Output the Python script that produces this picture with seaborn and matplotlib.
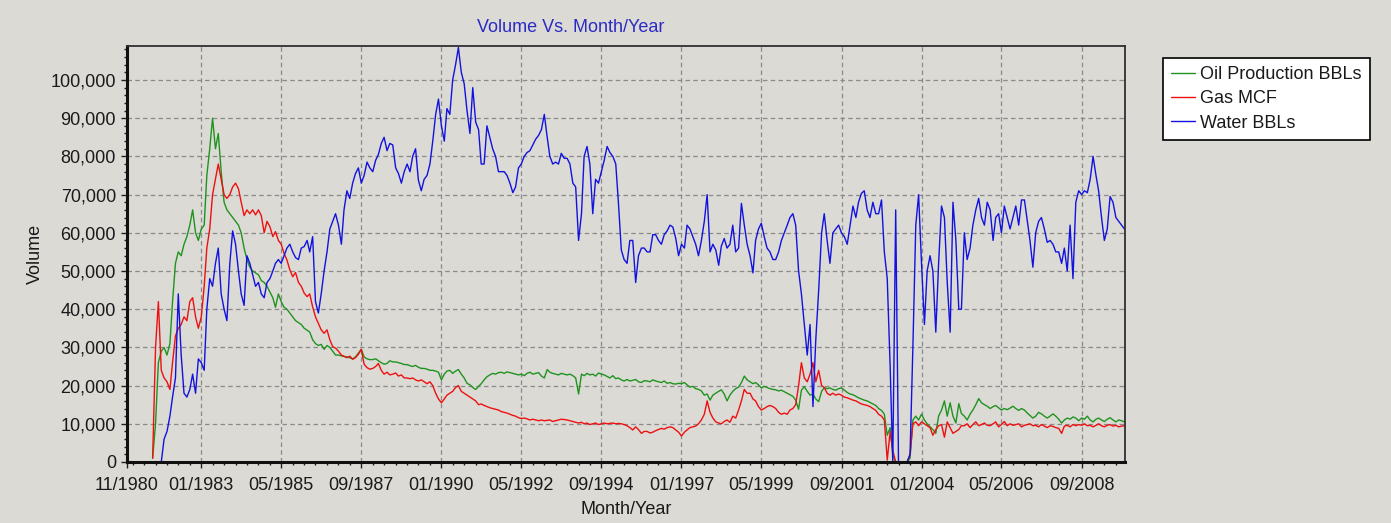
import numpy as np
import pandas as pd
import matplotlib
matplotlib.use("Agg")
import matplotlib.pyplot as plt
import matplotlib.dates as mdates
from matplotlib.ticker import FuncFormatter, MultipleLocator
import seaborn as sns

# ---------------- data (monthly, in thousands) ----------------
START_MONTH = "1981-08-01"
series_names = ["Oil Production BBLs", "Gas MCF", "Water BBLs"]

oil_k = [
    1, 10, 26, 29, 30,
    28, 31, 42, 52, 55, 54, 57, 59, 62, 66, 60, 58,
    61, 62, 75, 82, 90, 82, 86, 76, 68, 66, 65, 64,
    63, 62, 60, 56, 53, 51, 50, 49.5, 49, 47.5, 47, 46,
    44.5, 43, 40.5, 44, 42, 40.5, 40, 39, 38, 37, 36.5, 36,
    35, 34.5, 34, 32, 31, 30.5, 30.8, 29.5, 30.5, 30, 29, 28,
    28, 27.8, 27.6, 27.5, 27.3, 27, 27.5, 28.5, 29.5, 27.5, 27, 26.8,
    26.8, 27, 26.5, 26, 25.6, 25.8, 26.5, 26.2, 26.2, 26, 25.8, 25.5,
    25.5, 25.2, 25, 25.3, 24.8, 24.5, 24.5, 24.3, 24, 24, 23.8, 23.5,
    21.5, 23, 23.8, 24, 23.2, 23.8, 24.2, 23, 22, 20.6, 20.2, 19.5,
    19, 19.8, 20.5, 21.5, 22.3, 22.8, 23.2, 23, 23.4, 23.5, 23.2, 23.6,
    23.4, 23.2, 23, 22.8, 23, 22.6, 23.2, 23.5, 23, 23.2, 23.4, 22.5,
    22, 24.2, 23.5, 23.2, 23, 22.8, 23.2, 23, 22.8, 23, 22.6, 22,
    17.8, 23, 22.6, 23.2, 22.8, 23, 22.5, 23.3, 23, 22.8, 22.4, 22,
    22.6, 21.8, 22, 21.5, 21.2, 21.6, 21.2, 21.4, 21.6, 21, 20.8, 21.3,
    21.2, 21, 21.5, 21.2, 21, 20.8, 21.2, 20.6, 20.8, 20.5, 20.4, 20.6,
    20.5, 20.8, 20.2, 19.6, 19.8, 19.2, 19, 18.6, 17.5, 17.8, 16.2, 17.5,
    18, 18.5, 18.9, 17.8, 16, 17.5, 18.5, 19.2, 19.6, 20.8, 22.5, 21.5,
    21, 20.5, 20.8, 20.2, 19.4, 19.8, 19.5, 19.2, 19, 18.9, 18.6, 18.8,
    18.4, 18, 17.6, 17.2, 16.2, 13.8, 18.8, 19.7, 18.5, 17.5, 17.8, 16.5,
    15.8, 18.5, 19.5, 19.2, 19.4, 19, 18.8, 19.2, 19.4, 18.8, 18.2, 17.8,
    17.6, 17.2, 16.8, 16.5, 16.2, 16, 15.6, 15.2, 14.8, 14, 13.5, 12.5,
    7, 9, 2, 0, 0, 0, 0, 0, 1, 11, 12, 11,
    12.5, 11, 10, 9.2, 8.5, 7.5, 12, 13.6, 16, 12, 15.5, 12,
    10.2, 15.3, 12.7, 12, 11, 12.5, 13.6, 15, 16.6, 15.5, 15, 14.6,
    14, 14.5, 14.8, 14.2, 13.6, 14, 13.7, 14.1, 14.6, 14, 13.5, 14,
    13.6, 12.8, 12.2, 11.5, 12, 13, 12.6, 12, 11.5, 12, 12.6, 12,
    11.2, 10.2, 11, 11.5, 11.2, 11.8, 11.5, 10.8, 11.5, 11.2, 12, 11,
    10.5, 11.2, 11.5, 11, 10.6, 11.2, 11.6, 11, 10.5, 11, 10.8, 10.5,
]

gas_k = [
    1, 30, 42, 24, 22,
    21, 19, 26, 33, 35, 36, 38, 37, 42, 43, 38, 35,
    38, 46, 56, 61, 70, 74, 78, 74, 70, 69, 70, 72,
    73, 71.5, 68, 64.5, 66, 65, 66, 64.7, 66, 64.5, 60, 63,
    61.6, 59, 60.3, 58, 57, 54.6, 52.9, 50.3, 48.5, 49.6, 47, 46,
    44.2, 43.3, 44, 40.6, 38, 36.3, 34.6, 33.7, 34.6, 32, 30.2, 29.8,
    29, 28, 27.7, 27.3, 27.7, 26.9, 27.3, 28.2, 29.5, 25.6, 24.7, 24.3,
    24.5, 25, 25.8, 24, 23, 23.5, 22.8, 23, 23.3, 22.5, 22.8, 22,
    22, 21.8, 22, 21.5, 21.2, 21.5, 21, 20.5, 21, 20, 18, 16.5,
    15.5, 16.5, 17.5, 18, 18.5, 19.5, 20, 18.5, 18, 17.5, 17, 16.5,
    16, 15, 15.2, 14.8, 14.5, 14.2, 14, 13.8, 13.6, 13.2, 13, 12.8,
    12.5, 12.2, 12, 11.6, 11.4, 11.5, 11.3, 11, 11.2, 11, 10.8, 11,
    10.8, 10.9, 11, 10.6, 10.8, 11, 11.2, 11.1, 11, 10.8, 10.6, 10.4,
    10.2, 10.4, 10, 10.2, 9.8, 10, 10.2, 9.8, 10, 10.2, 10, 10.1,
    10.2, 10, 10.1, 10, 9.8, 9.5, 9, 8.4, 9.2, 8.5, 7.5, 8,
    8, 7.6, 7.8, 8.2, 8.5, 8.8, 8.6, 9, 9.2, 9, 8.4, 7.8,
    6.8, 7.8, 8.4, 9, 9.2, 9.4, 10, 11, 12.5, 16, 13, 11.5,
    10.5, 10.2, 10, 10.6, 11, 10.4, 12, 11.5, 13.6, 16, 19, 18,
    18, 16.5, 16, 14.5, 13.6, 14, 14.5, 14.8, 14.5, 14, 13, 12.5,
    12.8, 12.5, 13.6, 14, 15, 20, 26, 22, 21, 23, 26, 21,
    24, 20, 19.5, 18, 17.5, 18, 17.5, 17.8, 17.5, 17, 16.8, 16.5,
    16.2, 16, 15.6, 15.2, 15, 14.8, 14.5, 14, 13.5, 12.5, 12, 11,
    0.5, 8, 3, 0, 0, 0, 0, 0, 2, 10, 10.5, 9.5,
    10.5, 10, 9.5, 9, 7, 8.5, 9.5, 9.8, 6.5, 10.5, 9, 7.5,
    8, 8.5, 9.5, 9.5, 10, 9, 9.8, 10.5, 9.5, 9.8, 10.2, 9.6,
    9.5, 10, 10.5, 9.2, 9.8, 10.6, 9.5, 10, 9.6, 9.8, 10, 9.2,
    9.6, 9.8, 10, 9.5, 9.6, 9.2, 9.8, 9.4, 9, 9.5, 9.3, 9,
    8.8, 7.5, 9.4, 9.6, 9.2, 9.8, 9.5, 9.8, 9.6, 10, 9.5, 9.6,
    9.2, 9.6, 10, 9.5, 9.2, 9.6, 9.8, 9.4, 9.6, 9.2, 9.4, 9.5,
]

water_k = [
    0, 0, 0, 0, 6,
    8, 12, 17, 22, 44, 28, 18, 17, 19, 23, 18, 27,
    26, 24, 40, 48, 46, 52, 56, 44, 40, 37, 52, 60.5,
    57, 50, 44, 41, 54, 52, 49, 46, 47, 44, 43, 47,
    48, 50, 52, 53, 52, 54, 56, 57, 55, 53.5, 53, 56,
    56.4, 58, 55, 59, 42, 39, 44, 50, 55, 61, 63, 65,
    62, 57, 66, 71, 69, 73, 75.5, 77, 73, 75, 78.5, 77,
    76, 79, 80.5, 83.4, 85, 81.5, 83.4, 83, 77, 75.5, 73, 76,
    78, 76, 80, 82, 73.8, 71, 74, 75, 78, 84, 91, 95,
    88, 84, 92.5, 91, 100, 104, 108.5, 102, 99, 92, 86, 98,
    89, 87, 78, 78, 88, 85, 82, 80, 76, 76, 76, 75,
    73, 70.5, 72, 77, 78, 80, 81, 81.5, 83, 84.5, 85.5, 87,
    91, 85, 80, 78, 78.5, 78, 80.8, 79.5, 79.5, 78, 73, 72,
    58, 65, 80, 82.6, 78, 65, 74, 73, 76, 79, 82.6, 81,
    80, 78, 68, 55.5, 53, 52, 58, 58, 47, 54, 56, 56,
    55, 55, 59.5, 59.5, 58, 57, 59.5, 60.5, 62, 61.5, 58.5, 54,
    57, 56, 62, 61, 59, 57, 54, 58, 63, 70, 55, 57,
    55.5, 51.5, 56.5, 58.5, 56, 57, 62, 55, 56, 67.7, 62, 57,
    54, 49.5, 58, 61, 62.5, 59, 56, 55, 53, 53, 55, 58,
    60, 62, 64, 65, 62, 50, 44, 36, 28, 36, 14.5, 32,
    45, 60, 65, 58, 52, 60, 61, 62, 60, 59, 57, 62,
    67, 64, 68, 70.3, 71, 66, 64, 68, 65, 65, 68.6, 55,
    48, 25, 0, 66, 0, 0, 0, 0, 2, 30, 62, 70,
    52, 36, 50, 54, 50, 34, 52, 67, 64, 47, 34, 68,
    58, 40, 40, 60, 53, 56, 62, 66, 69, 64, 62, 68,
    66, 58, 64, 65, 60, 67, 64, 61, 64, 67, 62, 68.6,
    68.6, 63, 58, 51, 60, 63, 64, 61, 57.5, 58, 57, 55,
    55, 52, 56, 50, 62, 48, 68, 71, 70, 71, 70.5, 74,
    80, 75, 71, 64, 58, 61, 69.5, 68, 64, 63, 62, 61,
]

x_tick_dates = ["1980-11-01", "1983-01-01", "1985-05-01", "1987-09-01",
                "1990-01-01", "1992-05-01", "1994-09-01", "1997-01-01",
                "1999-05-01", "2001-09-01", "2004-01-01", "2006-05-01",
                "2008-09-01"]
y_ticks = [0, 10000, 20000, 30000, 40000, 50000, 60000, 70000, 80000, 90000, 100000]

# ---------------- styling ----------------
BG = "#dcdad5"
line_colors = ["#1f931f", "#ee1010", "#1212e0"]

sns.set_theme(style="ticks")
plt.rcParams["font.family"] = ["Liberation Sans", "DejaVu Sans"]

n = len(oil_k)
dates = pd.date_range(START_MONTH, periods=n, freq="MS")
wide = pd.DataFrame({"date": dates,
                     series_names[0]: np.array(oil_k) * 1000,
                     series_names[1]: np.array(gas_k) * 1000,
                     series_names[2]: np.array(water_k) * 1000})
long = wide.melt(id_vars="date", var_name="series", value_name="volume")

W, H = 1391, 523
fig = plt.figure(figsize=(W / 100, H / 100), dpi=100, facecolor=BG)
ax_l, ax_r, ax_t, ax_b = 127, 1125, 46, 462
ax = fig.add_axes([ax_l / W, 1 - ax_b / H, (ax_r - ax_l) / W, (ax_b - ax_t) / H])
ax.set_facecolor(BG)

sns.lineplot(data=long, x="date", y="volume", hue="series",
             hue_order=series_names, palette=line_colors,
             estimator=None, linewidth=1.0, ax=ax, legend=True)

# axes limits / ticks
ax.set_xlim(pd.Timestamp("1980-11-01"), pd.Timestamp("2009-12-07"))
ax.set_ylim(0, 108900)
ax.set_xticks([pd.Timestamp(d) for d in x_tick_dates])
ax.xaxis.set_major_formatter(mdates.DateFormatter("%m/%Y"))
ax.xaxis.set_minor_locator(mdates.MonthLocator(bymonth=[1, 5, 9]))
ax.set_yticks(y_ticks)
ax.yaxis.set_major_formatter(FuncFormatter(lambda v, p: f"{int(v):,}"))
ax.yaxis.set_minor_locator(MultipleLocator(2000))

ax.tick_params(axis="both", which="major", labelsize=13, length=4, width=1.0,
               color="#202020", labelcolor="#1a1a1a", direction="out")
ax.tick_params(axis="x", which="major", pad=7)
ax.tick_params(axis="y", which="major", pad=4)
ax.tick_params(axis="both", which="minor", length=2.5, width=1.0, color="#202020",
               direction="out")

ax.grid(True, which="major", color="#8a8a8a", linestyle=(0, (3.6, 2.6)), linewidth=0.9)
ax.set_axisbelow(True)

for side in ["left", "bottom"]:
    ax.spines[side].set_linewidth(2.2)
    ax.spines[side].set_color("#101010")
for side in ["top", "right"]:
    ax.spines[side].set_linewidth(1.3)
    ax.spines[side].set_color("#303030")

ax.set_xlabel("Month/Year", fontsize=13, color="#1a1a1a", labelpad=5)
ax.set_ylabel("Volume", fontsize=13, color="#1a1a1a", labelpad=5)

fig.text(571 / W, 1 - 27 / H, "Volume Vs. Month/Year", color="#2b2bc4",
         fontsize=13, ha="center", va="center")

handles, labels = ax.get_legend_handles_labels()
leg = ax.legend(handles, labels, loc="upper left",
                bbox_to_anchor=((1163 - ax_l) / (ax_r - ax_l), (ax_b - 58) / (ax_b - ax_t)),
                borderaxespad=0, frameon=True, fancybox=False, framealpha=1,
                facecolor="white", edgecolor="black", fontsize=13,
                handlelength=1.3, handletextpad=0.3, borderpad=0.45,
                labelspacing=0.4, title=None)
leg.get_frame().set_linewidth(1.2)
for t in leg.get_texts():
    t.set_color("#1a1a1a")

fig.savefig("out.png", dpi=100, facecolor=BG)
